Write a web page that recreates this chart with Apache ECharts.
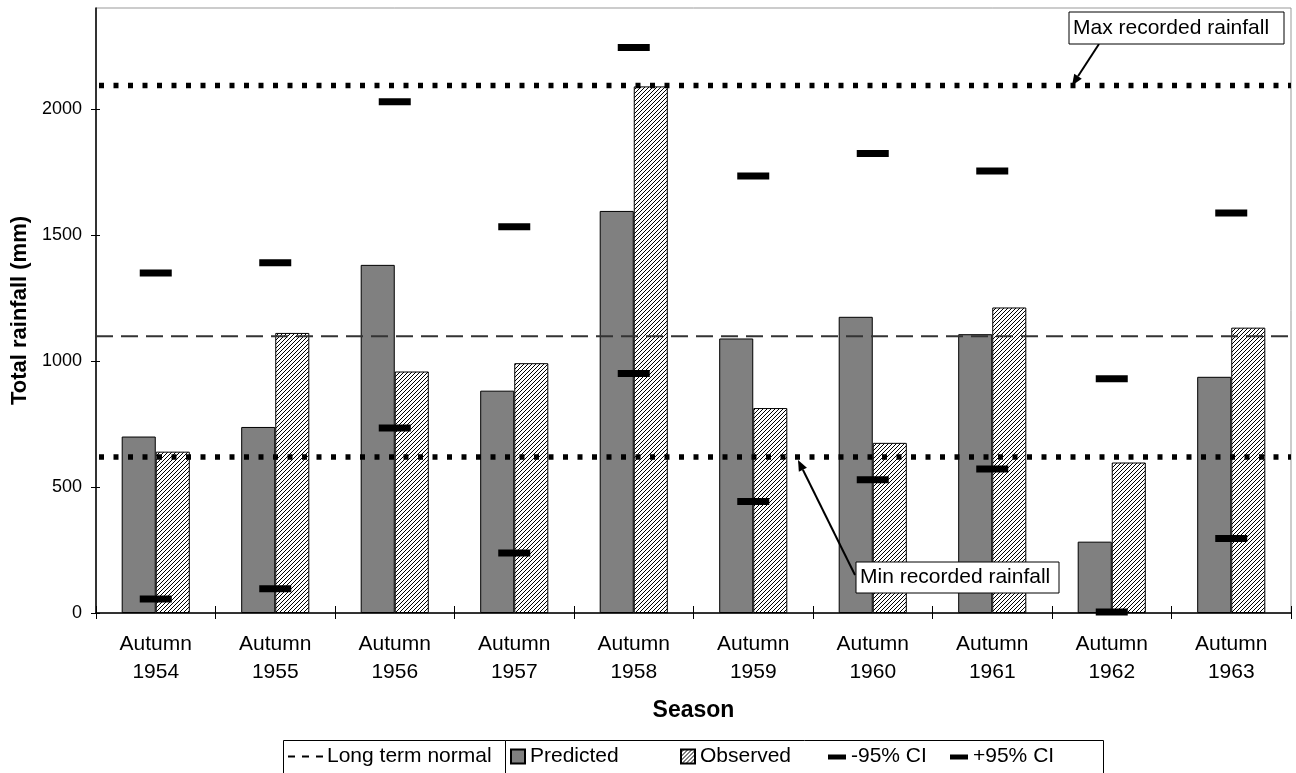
<!DOCTYPE html>
<html>
<head>
<meta charset="utf-8">
<script src="https://cdn.jsdelivr.net/npm/echarts@6/dist/echarts.min.js"></script>
<style>
  html, body { margin: 0; padding: 0; background: #fff; }
  #chart { width: 1296px; height: 773px; }
</style>
</head>
<body>
<div id="chart"></div>
<script>
const categories = [
  'Autumn\n1954', 'Autumn\n1955', 'Autumn\n1956', 'Autumn\n1957', 'Autumn\n1958',
  'Autumn\n1959', 'Autumn\n1960', 'Autumn\n1961', 'Autumn\n1962', 'Autumn\n1963',
];
const predicted = [700, 738, 1381, 882, 1595, 1089, 1175, 1106, 283, 937];
const observed = [640, 1111, 958, 991, 2089, 813, 675, 1212, 597, 1132];
const ciLow = [56, 96, 734, 238, 950, 442, 529, 571, 4, 296];
const ciHigh = [1349, 1389, 2028, 1532, 2243, 1734, 1823, 1753, 929, 1587];
const longTermNormal = 1098;
const maxRecorded = 2093;
const minRecorded = 619;
const yTicks = [0, 500, 1000, 1500, 2000];

const FONT = "'Liberation Sans', Arial, sans-serif";

// diagonal hatch used for the observed bars
function hatchPattern() {
  const c = document.createElement('canvas');
  c.width = 4;
  c.height = 4;
  const ctx = c.getContext('2d');
  ctx.fillStyle = '#fff';
  ctx.fillRect(0, 0, 4, 4);
  ctx.fillStyle = '#000';
  for (let i = 0; i < 4; i++) ctx.fillRect(i, 3 - i, 1, 1);
  return { image: c, repeat: 'repeat' };
}
const hatch = hatchPattern();

const squareIcon = 'path://M0,0H14V14H0Z';
const dashIcon = 'path://M0,0H0.01V0.01H0ZM0,5H18V10H0ZM18,13.99H17.99V14H18Z';
const dashedLineIcon = 'path://M0,6H7V8H0ZM14,6H21V8H14ZM28,6H35V8H28Z';

// one legend per entry so each sits where the reference puts it
function legendAt(left, item, iconW) {
  return {
    left, top: 741,
    padding: [5, 0, 5, 0],
    itemWidth: iconW, itemHeight: 14, itemGap: 0,
    data: [item],
    textStyle: { fontSize: 21, color: '#000', fontFamily: FONT, padding: [0, 0, 0, -1] },
  };
}

// a flat line from the left edge of the plot to the right edge
const flat = (v) => [[0, v], [1, v]];

const chart = echarts.init(document.getElementById('chart'));
chart.setOption({
  animation: false,
  textStyle: { fontFamily: FONT },
  grid: {
    left: 96, right: 5, top: 8, bottom: 160,
    show: true, borderColor: '#999', borderWidth: 1,
    containLabel: false, outerBoundsMode: 'none',
  },
  xAxis: [
    {
      type: 'category',
      data: categories,
      name: 'Season',
      nameLocation: 'middle',
      nameGap: 86,
      nameTextStyle: { fontSize: 23, fontWeight: 'bold', color: '#000', fontFamily: FONT },
      axisLine: { lineStyle: { color: '#000', width: 1.5 } },
      axisTick: { show: true, length: 6, lineStyle: { color: '#000' } },
      axisLabel: { interval: 0, fontSize: 21, lineHeight: 28, margin: 17, color: '#000', fontFamily: FONT },
      splitLine: { show: false },
    },
    { type: 'value', min: 0, max: 1, show: false },
    {
      type: 'category',
      data: categories,
      position: 'bottom',
      axisLine: { show: false },
      axisTick: { show: true, inside: true, length: 7, lineStyle: { color: '#000' } },
      axisLabel: { show: false },
      splitLine: { show: false },
    },
  ],
  yAxis: [
    {
      type: 'value',
      min: 0,
      max: 2400,
      interval: 500,
      name: 'Total rainfall (mm)',
      nameLocation: 'middle',
      nameGap: 62,
      nameTextStyle: { fontSize: 22, fontWeight: 'bold', color: '#000', fontFamily: FONT },
      axisLine: { show: true, lineStyle: { color: '#000', width: 1.5 } },
      axisTick: { show: true, length: 5, customValues: yTicks, lineStyle: { color: '#000' } },
      axisLabel: {
        fontSize: 18, margin: 14, color: '#000', fontFamily: FONT,
        customValues: yTicks,
        formatter: (v) => String(v),
      },
      splitLine: { show: false },
    },
    {
      type: 'value',
      min: 0,
      max: 2400,
      interval: 500,
      position: 'left',
      axisLine: { show: false },
      axisTick: { show: true, inside: true, length: 4, customValues: yTicks, lineStyle: { color: '#000' } },
      axisLabel: { show: false },
      splitLine: { show: false },
    },
  ],
  legend: [
    legendAt(288, { name: 'Long term normal', icon: dashedLineIcon, itemStyle: { color: '#000' } }, 35),
    legendAt(510, { name: 'Predicted', icon: squareIcon }, 16),
    legendAt(680, { name: 'Observed', icon: squareIcon }, 16),
    legendAt(828, { name: '-95% CI', icon: dashIcon }, 20),
    legendAt(950, { name: '+95% CI', icon: dashIcon }, 20),
  ],
  series: [
    {
      name: 'Predicted',
      type: 'bar',
      data: predicted,
      barGap: '0%',
      barCategoryGap: '43%',
      itemStyle: { color: '#808080', borderColor: '#000', borderWidth: 1 },
    },
    {
      name: 'Observed',
      type: 'bar',
      data: observed,
      itemStyle: { color: hatch, borderColor: '#000', borderWidth: 1 },
    },
    {
      name: 'Long term normal',
      type: 'line',
      xAxisIndex: 1,
      data: flat(longTermNormal),
      symbol: 'none',
      itemStyle: { color: '#000' },
      lineStyle: { color: '#333', width: 2, type: [17, 8] },
      z: 5,
    },
    {
      name: 'Max recorded rainfall',
      type: 'line',
      xAxisIndex: 1,
      data: flat(maxRecorded),
      symbol: 'none',
      lineStyle: { color: '#000', width: 5.5, type: [5, 9.5], dashOffset: -3 },
      z: 5,
    },
    {
      name: 'Min recorded rainfall',
      type: 'line',
      xAxisIndex: 1,
      data: flat(minRecorded),
      symbol: 'none',
      lineStyle: { color: '#000', width: 5.5, type: [5, 9.5], dashOffset: -3 },
      z: 5,
    },
    {
      name: '-95% CI',
      type: 'scatter',
      data: ciLow,
      symbol: 'rect',
      symbolSize: [32, 7],
      itemStyle: { color: '#000', opacity: 1 },
      z: 6,
    },
    {
      name: '+95% CI',
      type: 'scatter',
      data: ciHigh,
      symbol: 'rect',
      symbolSize: [32, 7],
      itemStyle: { color: '#000', opacity: 1 },
      z: 6,
    },
  ],
});

// callout boxes with arrows pointing at the record lines
function callout(label, box, from, to) {
  const dx = to[0] - from[0];
  const dy = to[1] - from[1];
  const len = Math.hypot(dx, dy);
  const ux = dx / len, uy = dy / len;
  const bx = to[0] - ux * 11, by = to[1] - uy * 11;
  const px = -uy * 4.5, py = ux * 4.5;
  return [
    {
      type: 'line', z: 20,
      shape: { x1: from[0], y1: from[1], x2: bx, y2: by },
      style: { stroke: '#000', lineWidth: 2 },
    },
    {
      type: 'polygon', z: 20,
      shape: { points: [to, [bx + px, by + py], [bx - px, by - py]] },
      style: { fill: '#000' },
    },
    {
      type: 'rect', z: 21,
      shape: { x: box.x, y: box.y, width: box.w, height: box.h },
      style: { fill: '#fff', stroke: '#000', lineWidth: 1 },
    },
    {
      type: 'text', z: 22,
      x: box.x + 4, y: box.y + box.h / 2,
      style: { text: label, fontSize: 21, fontFamily: FONT, fill: '#000', verticalAlign: 'middle' },
    },
  ];
}

const legendBox = (x, w) => ({
  type: 'rect', z: 0,
  shape: { x: x + 0.5, y: 740.5, width: w, height: 34 },
  style: { fill: '#fff', stroke: '#000', lineWidth: 1 },
});

const yMaxPx = chart.convertToPixel({ yAxisIndex: 0 }, maxRecorded);
const yMinPx = chart.convertToPixel({ yAxisIndex: 0 }, minRecorded);
chart.setOption({
  graphic: [
    legendBox(283, 222),
    legendBox(505, 598),
    ...callout('Max recorded rainfall', { x: 1069, y: 12, w: 215, h: 32 }, [1099, 44], [1072, yMaxPx]),
    ...callout('Min recorded rainfall', { x: 856, y: 562, w: 203, h: 31 }, [855, 575], [798, yMinPx + 3]),
  ],
});
</script>
</body>
</html>
